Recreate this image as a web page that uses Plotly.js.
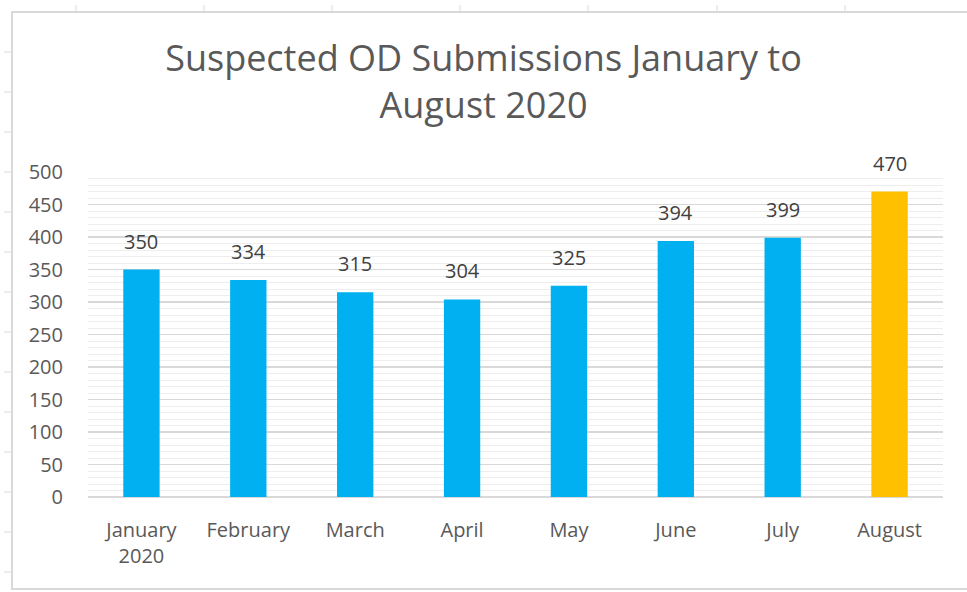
<!DOCTYPE html>
<html>
<head>
<meta charset="utf-8">
<script src="https://cdn.plot.ly/plotly-3.0.1.min.js"></script>
<style>
html,body{margin:0;padding:0;background:#fff;}
#chart{width:967px;height:592px;}
</style>
</head>
<body>
<div id="chart"></div>
<script>
const months = ["January<br>2020", "February", "March", "April", "May", "June", "July", "August"];
const submissions = [350, 334, 315, 304, 325, 394, 399, 470];
const barColors = ["#00b0f0", "#00b0f0", "#00b0f0", "#00b0f0", "#00b0f0", "#00b0f0", "#00b0f0", "#ffc000"];
const yTicks = [0, 50, 100, 150, 200, 250, 300, 350, 400, 450, 500];
const titleText = "Suspected OD Submissions January to<br>August 2020";

const FONT = '"Open Sans", Lato, sans-serif';
const W = 967, H = 592;
const mL = 88, mR = 24, mT = 172, mB = 95;
const pw = W - mL - mR, ph = H - mT - mB;
function px(x){ return (x - mL) / pw; }
function py(y){ return (H - mB - y) / ph; }

const shapes = [];
shapes.push({type:'rect', xref:'paper', yref:'paper', x0:px(12), x1:px(968), y0:py(589), y1:py(12), line:{color:'#d9d9d9', width:2}, fillcolor:'rgba(0,0,0,0)', layer:'above'});
[76,204,332,460,588,717,845].forEach(x=>{
  shapes.push({type:'line', xref:'paper', yref:'paper', x0:px(x), x1:px(x), y0:py(5), y1:py(12), line:{color:'#d9d9d9', width:1}});
});
[52,92,132,172,212,252,292,332,372,412,452,492,532,572].forEach(y=>{
  shapes.push({type:'line', xref:'paper', yref:'paper', x0:px(4), x1:px(12), y0:py(y), y1:py(y), line:{color:'#d9d9d9', width:1}});
});

const trace = {
  type: 'bar',
  x: months,
  y: submissions,
  marker: {color: barColors, line:{width:0}},
  width: 0.34,
  cliponaxis: false,
  hoverinfo: 'none'
};

const annotations = months.map((m, i) => ({
  x: m, y: submissions[i], xref: 'x', yref: 'y',
  text: String(submissions[i]),
  showarrow: false,
  yanchor: 'bottom',
  yshift: 13,
  font: {family: FONT, size: 20, color: '#404040'}
}));

const layout = {
  width: W, height: H,
  margin: {l: mL, r: mR, t: mT, b: mB, pad: 0},
  paper_bgcolor: '#ffffff',
  plot_bgcolor: '#ffffff',
  showlegend: false,
  font: {family: FONT, color: '#595959'},
  title: {
    text: titleText,
    font: {family: FONT, size: 36, color: '#595959'},
    x: 0.5, xref: 'container', xanchor: 'center',
    y: 1 - 71/H, yref: 'container', yanchor: 'top'
  },
  xaxis: {
    type: 'category',
    showgrid: false,
    showline: false,
    zeroline: false,
    ticks: '',
    tickfont: {family: FONT, size: 20, color: '#595959'},
    ticklabelstandoff: 19,
    fixedrange: true
  },
  yaxis: {
    range: [0, 500],
    tickvals: yTicks,
    ticktext: yTicks.map(String),
    showgrid: true,
    gridcolor: '#d9d9d9',
    gridwidth: 1.5,
    zeroline: true,
    zerolinecolor: '#d9d9d9',
    zerolinewidth: 1.5,
    showline: false,
    ticks: '',
    tickfont: {family: FONT, size: 20, color: '#595959'},
    ticklabelstandoff: 24,
    minor: {dtick: 10, showgrid: true, gridcolor: '#eeeeee', gridwidth: 1},
    fixedrange: true
  },
  annotations: annotations,
  shapes: shapes
};

Plotly.newPlot('chart', [trace], layout, {displayModeBar: false, staticPlot: true});
</script>
</body>
</html>
